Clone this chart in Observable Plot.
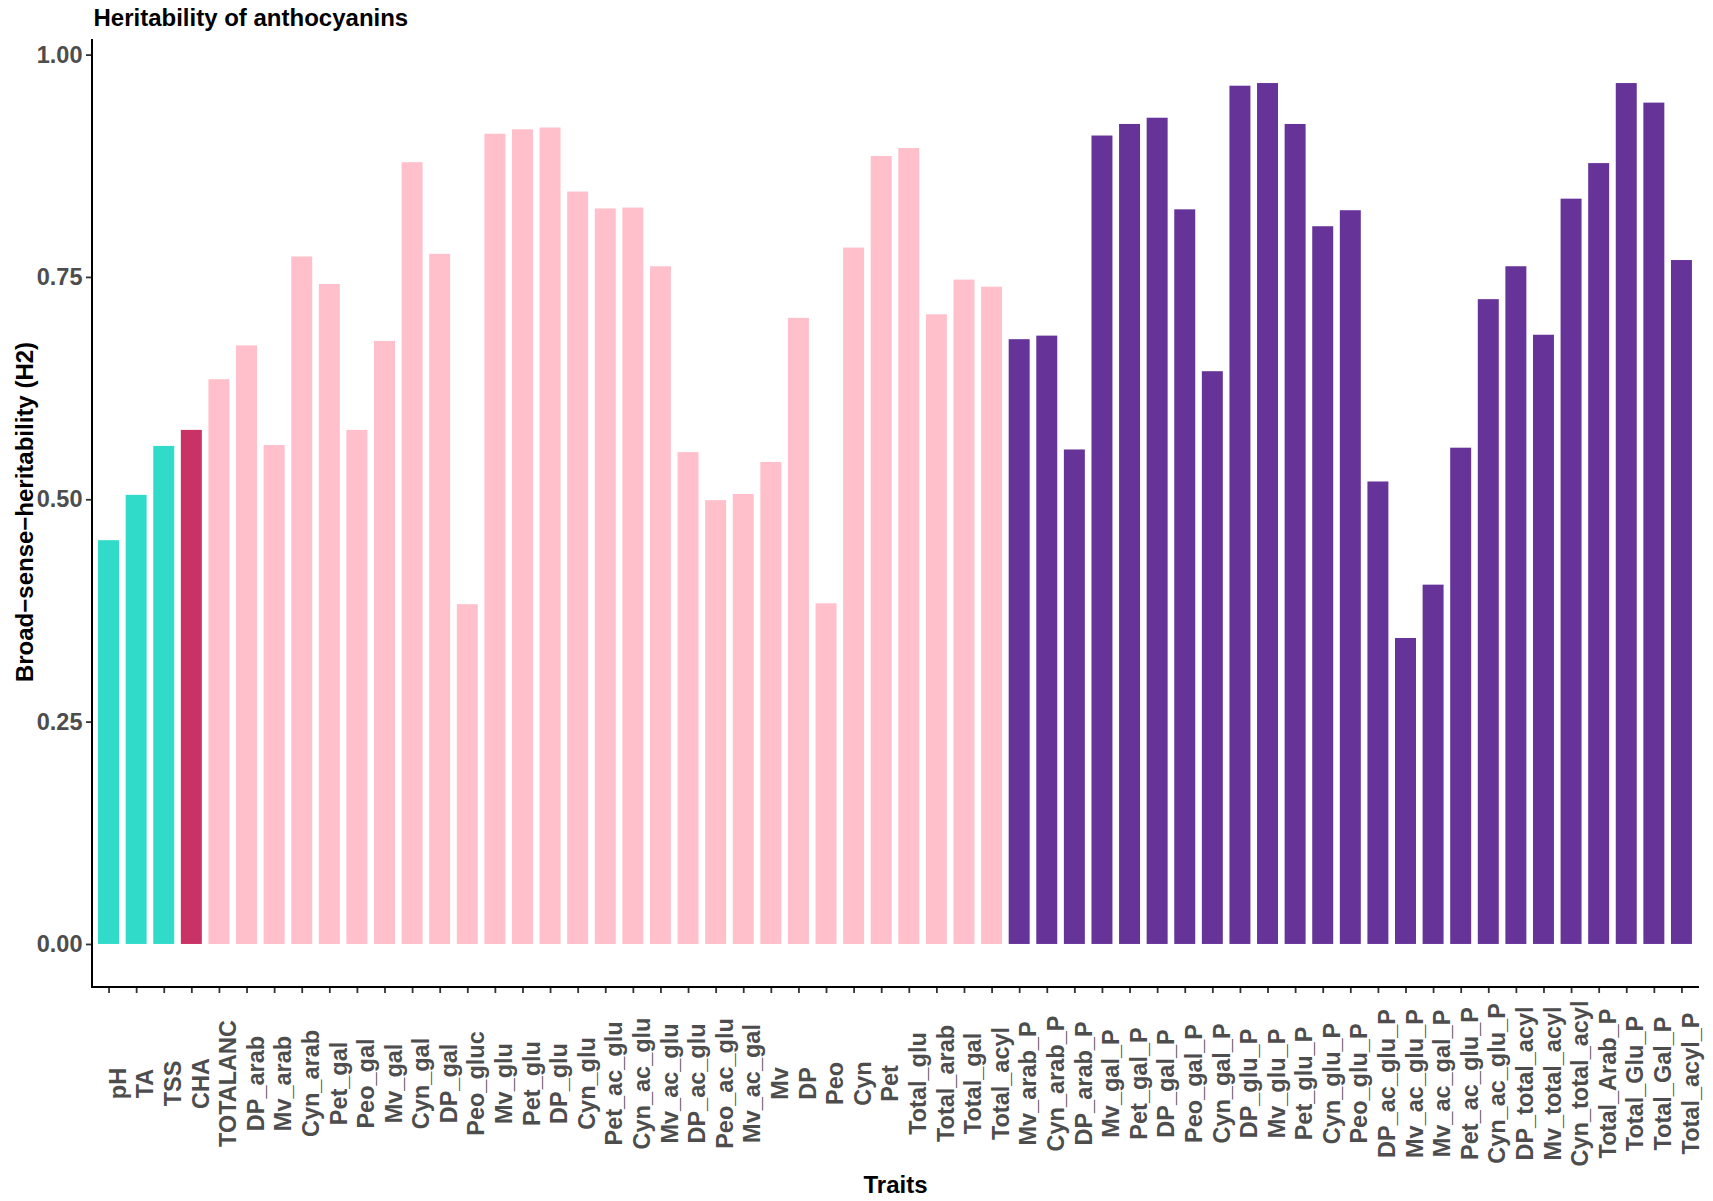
<!DOCTYPE html>
<html>
<head>
<meta charset="utf-8">
<script src="https://cdn.jsdelivr.net/npm/d3@7"></script>
<script src="https://cdn.jsdelivr.net/npm/@observablehq/plot@0.6"></script>
<style>
  html, body { margin: 0; padding: 0; background: #ffffff; }
  #chart svg { display: block; font-family: "Liberation Sans", Arial, Helvetica, sans-serif; }
</style>
</head>
<body>
<div id="chart"></div>
<script>
// ---- data ----
const physicoTraits = ["pH", "TA", "TSS"];
const physicoH2 = [0.454, 0.505, 0.560];

const chaTraits = ["CHA"];
const chaH2 = [0.578];

const anthTraits = ["TOTALANC", "DP_arab", "Mv_arab", "Cyn_arab", "Pet_gal", "Peo_gal", "Mv_gal",
  "Cyn_gal", "DP_gal", "Peo_gluc", "Mv_glu", "Pet_glu", "DP_glu", "Cyn_glu", "Pet_ac_glu",
  "Cyn_ac_glu", "Mv_ac_glu", "DP_ac_glu", "Peo_ac_glu", "Mv_ac_gal", "Mv", "DP", "Peo", "Cyn",
  "Pet", "Total_glu", "Total_arab", "Total_gal", "Total_acyl"];
const anthH2 = [0.635, 0.673, 0.561, 0.773, 0.742, 0.578, 0.678, 0.879, 0.776, 0.382, 0.911,
  0.916, 0.918, 0.846, 0.827, 0.828, 0.762, 0.553, 0.499, 0.506, 0.542, 0.704, 0.383, 0.783,
  0.886, 0.895, 0.708, 0.747, 0.739];

const anthPTraits = ["Mv_arab_P", "Cyn_arab_P", "DP_arab_P", "Mv_gal_P", "Pet_gal_P", "DP_gal_P",
  "Peo_gal_P", "Cyn_gal_P", "DP_glu_P", "Mv_glu_P", "Pet_glu_P", "Cyn_glu_P", "Peo_glu_P",
  "DP_ac_glu_P", "Mv_ac_glu_P", "Mv_ac_gal_P", "Pet_ac_glu_P", "Cyn_ac_glu_P", "DP_total_acyl",
  "Mv_total_acyl", "Cyn_total_acyl", "Total_Arab_P", "Total_Glu_P", "Total_Gal_P", "Total_acyl_P"];
const anthPH2 = [0.680, 0.684, 0.556, 0.909, 0.922, 0.929, 0.826, 0.644, 0.965, 0.968, 0.922,
  0.807, 0.825, 0.520, 0.344, 0.404, 0.558, 0.725, 0.762, 0.685, 0.838, 0.878, 0.968, 0.946, 0.769];

const groupNames = ["physico", "CHA", "anthocyanin", "anthocyanin_P"];
const groupColors = ["#30DCC9", "#C93264", "#FFC0CB", "#663399"];
const yTicks = [0, 0.25, 0.5, 0.75, 1];

const titleText = "Heritability of anthocyanins";
const yLabel = "Broad\u2212sense\u2212heritability (H2)";
const xLabel = "Traits";

// ---- build table ----
const groups = [
  [groupNames[0], physicoTraits, physicoH2],
  [groupNames[1], chaTraits, chaH2],
  [groupNames[2], anthTraits, anthH2],
  [groupNames[3], anthPTraits, anthPH2]
];
const data = groups.flatMap(([g, t, v]) => t.map((trait, i) => ({trait, h2: v[i], group: g})));
const traits = data.map(d => d.trait);
const maxV = d3.max(data, d => d.h2);
const yDomain = [-0.05 * maxV, 1.05 * maxV];

const font = "Liberation Sans, Arial, Helvetica, sans-serif";
const grey = "#4D4D4D";

const chart = Plot.plot({
  width: 1713,
  height: 1201,
  marginLeft: 92,
  marginRight: 15,
  marginTop: 40,
  marginBottom: 214,
  style: {fontFamily: font, background: "#ffffff"},
  x: {type: "band", domain: traits, paddingInner: 0.24, paddingOuter: 0.22, label: null},
  y: {domain: yDomain, label: null},
  color: {domain: groupNames, range: groupColors},
  marks: [
    Plot.barY(data, {x: "trait", y: "h2", fill: "group"}),
    Plot.axisY({
      ticks: yTicks, tickFormat: d3.format(".2f"), tickSize: 6, tickPadding: 4,
      fontSize: 23.5, fontWeight: "bold", fill: grey, stroke: "#333333", strokeWidth: 1.8, label: null
    }),
    Plot.axisX({
      tickSize: 6, tickFormat: () => "", stroke: "#333333", strokeWidth: 1.8, label: null
    }),
    // rotated tick labels, centred along their length as in the reference
    Plot.text(traits, {
      x: d => d, text: d => d, frameAnchor: "bottom", dy: 96, rotate: -90,
      textAnchor: "middle", lineAnchor: "top",
      fontSize: 23.5, fontWeight: "bold", fill: grey, fontFamily: font
    }),
    // title
    Plot.text([titleText], {
      text: d => d, frameAnchor: "top-left", dx: 1, dy: -15, textAnchor: "start", lineAnchor: "bottom",
      fontSize: 24, fontWeight: "bold", fill: "#000000", fontFamily: font
    }),
    // x axis title
    Plot.text([xLabel], {
      text: d => d, frameAnchor: "bottom", dy: 205, textAnchor: "middle", lineAnchor: "bottom",
      fontSize: 24, fontWeight: "bold", fill: "#000000", fontFamily: font
    }),
    // y axis title
    Plot.text([yLabel], {
      text: d => d, frameAnchor: "left", dx: -60, dy: -2, rotate: -90, textAnchor: "middle", lineAnchor: "bottom",
      fontSize: 24, fontWeight: "bold", fill: "#000000", fontFamily: font
    })
  ]
});

// axis lines (theme_classic style), placed from the chart's own scales
const xr = chart.scale("x").range;
const yr = chart.scale("y").range;
const svg = d3.select(chart);
svg.append("line")
  .attr("x1", xr[0]).attr("x2", xr[0]).attr("y1", yr[0]).attr("y2", yr[1])
  .attr("stroke", "#000000").attr("stroke-width", 2).attr("stroke-linecap", "square");
svg.append("line")
  .attr("x1", xr[0]).attr("x2", xr[1]).attr("y1", yr[0]).attr("y2", yr[0])
  .attr("stroke", "#000000").attr("stroke-width", 2).attr("stroke-linecap", "square");

document.getElementById("chart").appendChild(chart);
</script>
</body>
</html>
